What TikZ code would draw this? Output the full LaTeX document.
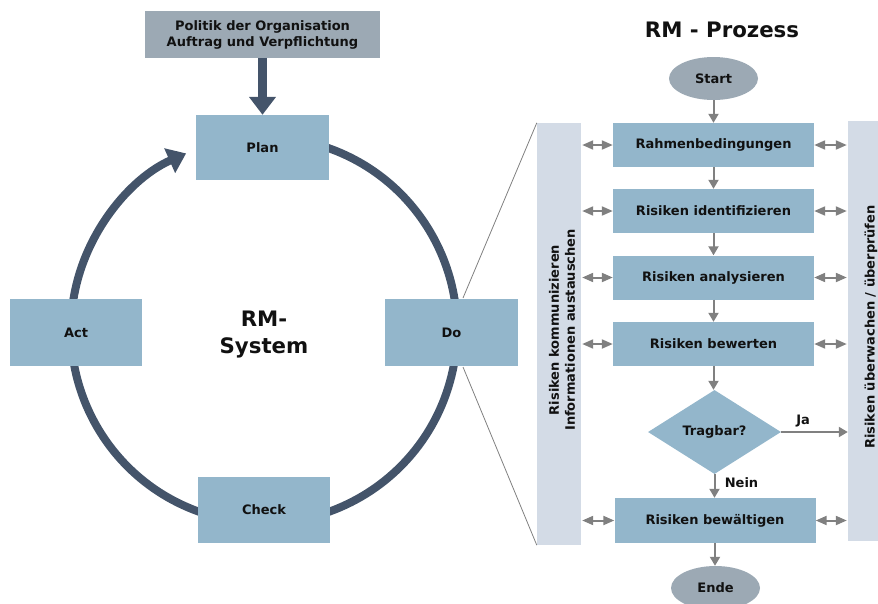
\documentclass[tikz,border=0pt]{standalone}
\usepackage{fontspec}
\setmainfont{DejaVu Sans}
\usetikzlibrary{arrows.meta,shapes.geometric}
\definecolor{boxblue}{HTML}{93B6CB}
\definecolor{capgray}{HTML}{9CA9B4}
\definecolor{barblue}{HTML}{D3DBE6}
\definecolor{ringblue}{HTML}{44546A}
\definecolor{linegray}{HTML}{808080}
\definecolor{ink}{HTML}{111111}

\begin{document}
\begin{tikzpicture}[x=1pt,y=1pt,
  txt/.style={font=\bfseries\fontsize{13}{16}\selectfont, text=ink, align=center},
  pdca/.style={txt, rectangle, fill=boxblue, inner sep=0pt},
  cyclebox/.style={pdca, minimum width=133pt, minimum height=66pt},
  procbox/.style={pdca, minimum width=201pt, minimum height=44pt},
  term/.style={txt, ellipse, fill=capgray, minimum width=89pt, minimum height=43pt, inner sep=0pt},
  sidebar/.style={rectangle, fill=barblue, inner sep=0pt},
  sidetext/.style={txt, rotate=90, inner sep=0pt, align=center},
  bigtext/.style={font=\bfseries\fontsize{21.3}{27}\selectfont, text=ink, align=center},
  flow/.style={draw=linegray, line width=2pt, -{Triangle[width=10pt,length=9pt]}},
  swap/.style={draw=linegray, line width=2pt, {Triangle[width=9pt,length=11pt]}-{Triangle[width=9pt,length=11pt]}},
  ring/.style={draw=ringblue, line width=8pt},
  zoomline/.style={draw=linegray, line width=0.8pt},
]
\useasboundingbox (0,0) rectangle (878,-603);
\clip (0,0) rectangle (878,-603);

% ---------- PDCA cycle ring ----------
\coordinate (ctr) at (264,-330);
\draw[ring, -{Triangle[width=26pt,length=18pt]}]
  (ctr) ++(72:193) arc[start angle=72, end angle=-246.2, radius=193];

% ---------- process side bars ----------
\node[sidebar, minimum width=44pt, minimum height=422pt] (lbar) at (559,-334) {};
\node[sidetext] (ltext) at (562,-330) {Risiken kommunizieren\\Informationen austauschen};
\node[sidebar, minimum width=46pt, minimum height=420pt] (rbar) at (871,-331) {};
\node[sidetext] (rtext) at (871,-327) {Risiken überwachen / überprüfen};

% lines opening from "Do" towards the process
\coordinate (dotop) at (463,-298);
\coordinate (dobot) at (463,-367);
\draw[zoomline] (dotop) -- (lbar.north west);
\draw[zoomline] (dobot) -- (lbar.south west);

% ---------- PDCA boxes ----------
\node[pdca, fill=capgray, minimum width=235pt, minimum height=47pt] (policy) at (262.5,-34.5)
  {Politik der Organisation\\Auftrag und Verpflichtung};
\node[cyclebox, minimum height=65pt] (plan) at (262.5,-147.5) {Plan};
\node[cyclebox, minimum width=132pt, minimum height=67pt] (act) at (76,-332.5) {Act};
\node[cyclebox, minimum height=67pt] (do) at (451.5,-332.5) {Do};
\node[cyclebox, minimum width=132pt] (check) at (264,-510) {Check};

\draw[draw=ringblue, line width=9pt, -{Triangle[width=26pt,length=18pt]}]
  (policy.south) -- (plan.north);

\node[bigtext] (system) at (264,-335) {RM-\\System};

% ---------- RM process ----------
\node[bigtext] (title) at (722,-30) {RM - Prozess};
\node[term] (start) at (713.5,-78.5) {Start};
\node[procbox] (r1) at (713.5,-145) {Rahmenbedingungen};
\node[procbox] (r2) at (713.5,-211) {Risiken identifizieren};
\node[procbox] (r3) at (713.5,-277.5) {Risiken analysieren};
\node[procbox] (r4) at (713.5,-344) {Risiken bewerten};
\node[txt, diamond, fill=boxblue, minimum width=133pt, minimum height=84pt, inner sep=0pt]
  (dia) at (714.5,-432) {Tragbar?};
\node[procbox, minimum height=45pt] (r5) at (715,-520.5) {Risiken bewältigen};
\node[term, minimum height=44pt] (ende) at (715.5,-588) {Ende};

\draw[flow] (start) -- (r1);
\draw[flow] (r1) -- (r2);
\draw[flow] (r2) -- (r3);
\draw[flow] (r3) -- (r4);
\draw[flow] (r4.south) -- (r4.south |- dia.north);
\draw[flow] (dia.south) -- (dia.south |- r5.north)
  node[txt, pos=0.35, right=6pt] {Nein};
\draw[flow] (r5.south) -- (r5.south |- ende.north);
\draw[flow] (dia.east) -- (rbar.west |- dia.east)
  node[txt, pos=0.33, above=1pt] {Ja};

\foreach \n in {r1,r2,r3,r4,r5}{
  \draw[swap] ([xshift=1pt]lbar.east |- \n.west) -- (\n.west);
  \draw[swap] (\n.east) -- ([xshift=-1pt]rbar.west |- \n.east);
}
\end{tikzpicture}
\end{document}
